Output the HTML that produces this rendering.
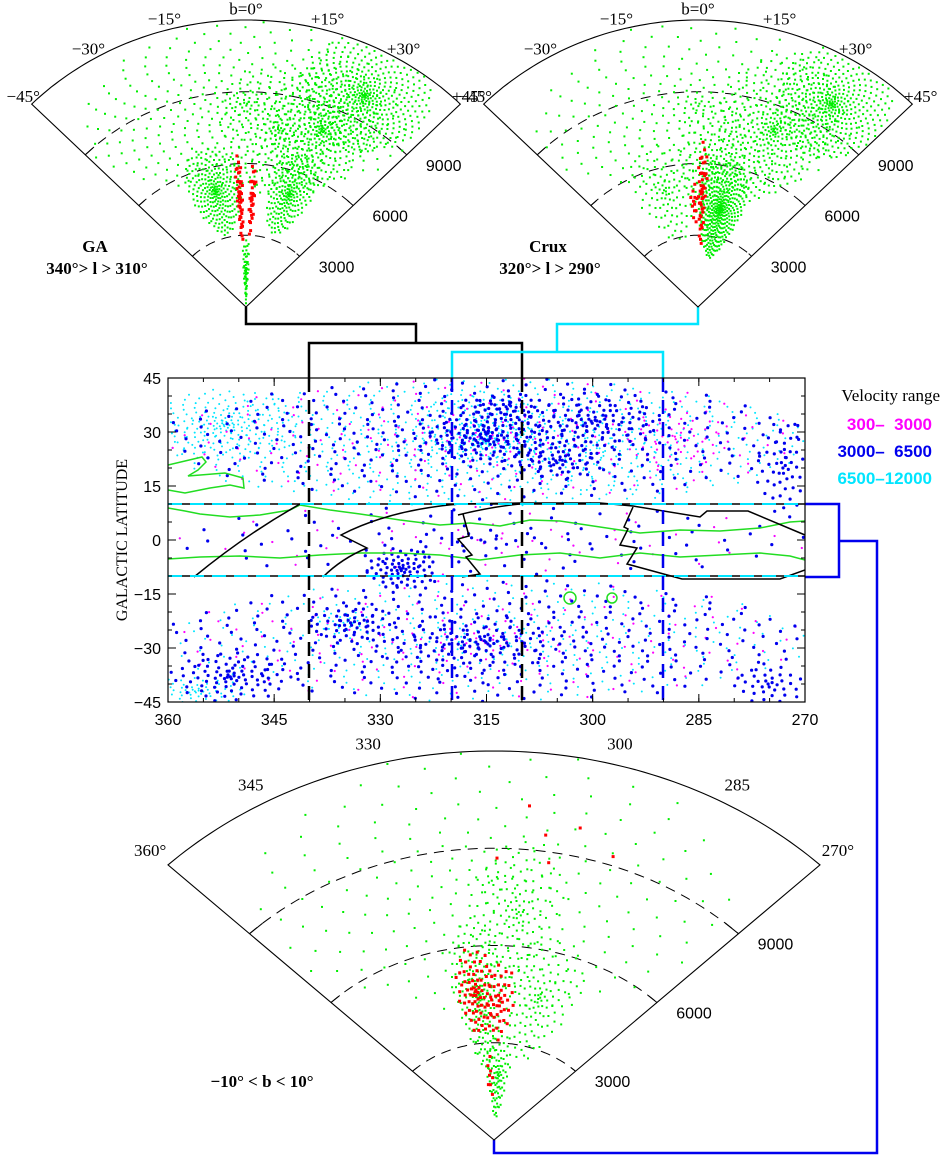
<!DOCTYPE html>
<html><head><meta charset="utf-8"><title>Zone of Avoidance redshift wedges</title>
<style>
html,body{margin:0;padding:0;background:#fff;}
svg{display:block;}
text{font-family:"Liberation Sans",sans-serif;}
.ser{font-family:"Liberation Serif",serif;}
.mono{font-family:"Liberation Mono",monospace;}
</style></head>
<body>
<svg id="fig" width="945" height="1156" viewBox="0 0 945 1156" xmlns="http://www.w3.org/2000/svg">
  <defs>
    <clipPath id="mapclip"><rect x="168" y="378" width="637" height="324"/></clipPath>
  </defs>
  <g id="connectors" fill="none">
    <polyline points="246,307 246,324 416,324 416,343" stroke="#000" stroke-width="2.5"/>
    <polyline points="309,378 309,343 522,343 522,378" stroke="#000" stroke-width="2.5"/>
    <polyline points="698,307 698,324 557,324 557,352" stroke="#00e5ff" stroke-width="2.5"/>
    <polyline points="452,378 452,352 663,352 663,378" stroke="#00e5ff" stroke-width="2.5"/>
    <polyline points="805,504 839,504 839,577 805,577" stroke="#0000ee" stroke-width="2.5"/>
    <polyline points="839,541 877,541 877,1153 494,1153 494,1140" stroke="#0000ee" stroke-width="2.5"/>
  </g>
  <g id="wedgeGA"></g>
  <g id="wedgeCrux"></g>
  <g id="wedgeZoA"></g>
  <g id="map">
    <g id="mapdots" clip-path="url(#mapclip)"></g>
    <g id="mapover" clip-path="url(#mapclip)" fill="none">
      <path d="M168,508 L185,511 L200,514 L230,517 L260,515 L290,510 L300,505 L330,510 L360,514 L400,520 L440,525 L470,523 L500,526 L530,520 L560,521 L600,527 L640,533 L680,530 L720,531 L760,528 L790,522 L805,521" stroke="#22dd22" stroke-width="1.5"/>
      <path d="M168,559 L200,557 L240,556 L280,558 L320,555 L360,553 L400,553 L440,555 L480,560 L520,555 L560,553 L600,558 L640,553 L680,557 L720,555 L760,553 L790,556 L805,560" stroke="#22dd22" stroke-width="1.5"/>
      <path d="M168,465 L185,461 L202,457 L206,462 L198,470 L188,476 L225,473 L243,478 L244,488 L230,485 L210,488 L185,493 L168,490" stroke="#22dd22" stroke-width="1.5"/>
      <circle cx="570" cy="598" r="6" stroke="#22dd22" stroke-width="1.5"/>
      <circle cx="612" cy="598" r="5" stroke="#22dd22" stroke-width="1.5"/>
      <path d="M194,577 Q245,535 300,504" stroke="#000" stroke-width="1.5"/>
      <path d="M323,577 C335,565 350,555 367,548 L341,535 C370,520 410,508 460,504 L520,503 L600,503 L633,506 L700,517 L707,511 L748,511 L805,535" stroke="#000" stroke-width="1.5"/>
      <path d="M458,515 Q490,507 520,504 M463,514 L469,536 L458,539 L472,555 L466,557 L480,574 L462,577" stroke="#000" stroke-width="1.5"/>
      <path d="M633,507 L624,527 L628,529 L620,545 L637,548 L627,564 L682,579 L780,579 L805,570" stroke="#000" stroke-width="1.5"/>
      <line x1="168" y1="504" x2="805" y2="504" stroke="#000" stroke-width="1.5"/>
      <line x1="168" y1="504" x2="805" y2="504" stroke="#00e5ff" stroke-width="2" stroke-dasharray="14,8"/>
      <line x1="168" y1="576" x2="805" y2="576" stroke="#000" stroke-width="1.5"/>
      <line x1="168" y1="576" x2="805" y2="576" stroke="#00e5ff" stroke-width="2" stroke-dasharray="14,8"/>
      <line x1="309" y1="378" x2="309" y2="702" stroke="#000" stroke-width="2.5" stroke-dasharray="14,8"/>
      <line x1="522" y1="378" x2="522" y2="702" stroke="#000" stroke-width="2.5" stroke-dasharray="14,8"/>
      <line x1="452" y1="378" x2="452" y2="702" stroke="#0000ee" stroke-width="2.5" stroke-dasharray="14,8"/>
      <line x1="663" y1="378" x2="663" y2="702" stroke="#0000ee" stroke-width="2.5" stroke-dasharray="14,8"/>
    </g>
    <rect x="168" y="378" width="637" height="324" fill="none" stroke="#000" stroke-width="1.2"/>
    <g id="mapaxes"></g>
    <text x="127" y="540" class="ser" font-size="16" text-anchor="middle" transform="rotate(-90 127 540)">GALACTIC LATITUDE</text>
  </g>
  <g>
    <text x="940" y="401" class="ser" font-size="17" text-anchor="end">Velocity range</text>
    <text x="932" y="430" font-size="17" font-weight="bold" fill="#ff00ff" text-anchor="end" xml:space="preserve">300–  3000</text>
    <text x="932" y="457" font-size="17" font-weight="bold" fill="#0000ee" text-anchor="end" xml:space="preserve">3000–  6500</text>
    <text x="932" y="484" font-size="17" font-weight="bold" fill="#00e5ff" text-anchor="end">6500–12000</text>
  </g>
  <text x="95" y="252" class="ser" font-size="17" font-weight="bold" text-anchor="middle">GA</text>
  <text x="97" y="274" class="ser" font-size="17" font-weight="bold" text-anchor="middle">340°&gt; l &gt; 310°</text>
  <text x="548" y="252" class="ser" font-size="17" font-weight="bold" text-anchor="middle">Crux</text>
  <text x="550" y="274" class="ser" font-size="17" font-weight="bold" text-anchor="middle">320°&gt; l &gt; 290°</text>
  <text x="262" y="1087" class="ser" font-size="17" font-weight="bold" text-anchor="middle">−10° &lt; b &lt; 10°</text>
</svg>
<script>
// ---- sky map clusters: galactic longitude / latitude centre, half-extent, count ----
const mapL  = [315,315,315,315,315,315,315,315,315, 315,316,305,327,334,335,351,356,275,352,273,312,300,288,318,300];
const mapB  = [ 27,-28, 28,-28, 28,-28,  0,  0,  0,  30, 32, 22, -8,-23,-23,-38,-42,-40, 32, 20, 37, 33, 28,-30, 25];
const mapSL = [ 46, 46, 46, 46, 46, 46, 46, 46, 46,   8,  9,  7,  5,  6,  4,  9,  7,  5, 11,  4,  5, 10,  8, 12, 14];
const mapSB = [ 18, 17, 17, 17, 17, 17, 10, 10, 10,   9, 10,  5,  6,  6,  3,  7,  4,  6, 10, 14,  4,  8,  8, 10, 13];
const mapN  = [800,350,420,420,220,180,110, 60, 60,  90,120, 50, 70, 45, 25, 80, 60, 35,180, 50, 30, 90, 45, 50, 70];
const mapSeries = [2,2,1,1,0,0,1,0,2, 1,2,1,1,1,2,1,2,1,2,1,1,1,0,1,2]; // 0 magenta, 1 blue, 2 cyan
// ---- GA wedge clusters: latitude (deg), velocity (km/s), half-extent, count, red flag ----
const gaB  = [ 28, 22,-14, 20, 10,  0, 0, -3,  3];
const gaV  = [10000,8000,5000,5000,7500,8500,1500,4600,4500];
const gaSB = [ 15, 15, 12, 10, 18, 44, 4, 1.5, 1.5];
const gaSV = [2400,2800,1900,1800,2800,3600,1400,1900,1600];
const gaN  = [450,300,250,200,200,400, 60, 45, 30];
const gaRed= [0,0,0,0,0,0,0,1,1];
// ---- Crux wedge clusters ----
const cxB  = [ 32, 22, 12,  5,  0,-15,  2, -2];
const cxV  = [10000,8000,4200,6000,8500,5000,4800,4300];
const cxSB = [ 13, 16, 12, 12, 44, 14,  2,  2];
const cxSV = [2400,3200,2100,2700,3600,2200,2300, 900];
const cxN  = [400,350,380,150,300,100, 45, 12];
const cxRed= [0,0,0,0,0,0,1,1];
// ---- ZoA wedge clusters: longitude (deg), velocity ----
const zaL  = [320,310,300,315,312,321,313,305,318];
const zaV  = [4500,7000,4500,8000,2000,4600,4300,9500,2000];
const zaSL = [  8,  9, 12, 44,  8,  6,  5, 12,  3];
const zaSV = [2400,2400,2000,4200,1400,1400,1300,1600, 700];
const zaN  = [200,120,120,250, 90, 70, 40,  6,  8];
const zaRed= [0,0,0,0,0,1,1,1,1];
const xTicks = [360,345,330,315,300,285,270];
const yTicks = [45,30,15,0,-15,-30,-45];
const velTicks = [3000,6000,9000];
const wedgeBLabels = [-45,-30,-15,0,15,30,45];
const zoaLLabels = [360,345,330,300,285,270];

const NS = 'http://www.w3.org/2000/svg';
function mk(tag, attrs, parent){ const e=document.createElementNS(NS,tag); for(const k in attrs) e.setAttribute(k,attrs[k]); parent.appendChild(e); return e; }
const xMap = l => 168 + (360 - l) * 637 / 90;
const yMap = b => 540 - b * 3.6;
function sunflower(n, i){ const r=Math.pow((i+0.5)/n,0.75), t=i*2.399963; return [r*Math.cos(t), r*Math.sin(t)]; }

const mapColors = ['#ff00ff','#0000ee','#00e5ff'];
const mapSizes = [1.1,1.6,1.0];
const mapDots = document.getElementById('mapdots');
for (const s of [2,0,1]) {
  for (let c=0;c<mapL.length;c++){
    if (mapSeries[c]!==s) continue;
    for (let i=0;i<mapN[c];i++){
      const [u,v]=sunflower(mapN[c],i);
      const l=mapL[c]+u*mapSL[c], b=mapB[c]+v*mapSB[c];
      const d=mk('circle',{cx:xMap(l).toFixed(1),cy:yMap(b).toFixed(1),r:mapSizes[s],fill:mapColors[s]},mapDots);
      
      
    }
  }
}
const ax=document.getElementById('mapaxes');
for (const t of xTicks){
  mk('line',{x1:xMap(t),y1:702,x2:xMap(t),y2:694,stroke:'#000'},ax);
  mk('line',{x1:xMap(t),y1:378,x2:xMap(t),y2:386,stroke:'#000'},ax);
  const tx=mk('text',{x:xMap(t),y:725,'font-size':16,'text-anchor':'middle'},ax); tx.textContent=t;
  
  
}
for (let t=270;t<=360;t+=5){ mk('line',{x1:xMap(t),y1:702,x2:xMap(t),y2:698,stroke:'#000'},ax); mk('line',{x1:xMap(t),y1:378,x2:xMap(t),y2:382,stroke:'#000'},ax); }
for (const t of yTicks){
  mk('line',{x1:168,y1:yMap(t),x2:176,y2:yMap(t),stroke:'#000'},ax);
  mk('line',{x1:805,y1:yMap(t),x2:797,y2:yMap(t),stroke:'#000'},ax);
  const tx=mk('text',{x:161,y:yMap(t)+6,'font-size':16,'text-anchor':'end'},ax); tx.textContent=(t<0?'−':'')+Math.abs(t);
  
  
}
for (let t=-45;t<=45;t+=5){ mk('line',{x1:168,y1:yMap(t),x2:172,y2:yMap(t),stroke:'#000'},ax); mk('line',{x1:805,y1:yMap(t),x2:801,y2:yMap(t),stroke:'#000'},ax); }

function wedge(g, cx, cy, rx, ry, angs, vels, sas, svs, ns, reds, angOf, labels, labelText, lf){
  const P=(a,v)=>{ const r=v/12000, rad=a*Math.PI/180; return [cx+rx*r*Math.sin(rad), cy-ry*r*Math.cos(rad)]; };
  let d='M'+cx+','+cy;
  for(let a=-45;a<=45;a+=1){ const p=P(a,12000); d+=' L'+p[0].toFixed(1)+','+p[1].toFixed(1); }
  d+=' Z';
  const fr=mk('path',{d:d,fill:'none',stroke:'#000','stroke-width':1.1},g);
  
  
  for (const v of velTicks){
    let dd='';
    for(let a=-45;a<=45;a+=1){ const p=P(a,v); dd+=(a===-45?'M':' L')+p[0].toFixed(1)+','+p[1].toFixed(1); }
    const arc=mk('path',{d:dd,fill:'none',stroke:'#000','stroke-width':1,'stroke-dasharray':'10,7'},g);
    
    
    for (const a of [-45,45]){ const p=P(a,v), q=P(a+(a<0?3:-3),v); mk('line',{x1:p[0],y1:p[1],x2:q[0],y2:q[1],stroke:'#000'},g); }
    const p=P(45,v);
    const tx=mk('text',{x:p[0]+37,y:p[1]+16,'font-size':16,'text-anchor':'middle'},g); tx.textContent=v;
    
    
  }
  for (const red of [0,1]){
    for(let c=0;c<angs.length;c++){
      if (reds[c]!==red) continue;
      for(let i=0;i<ns[c];i++){
        const [u,w]=sunflower(ns[c],i);
        const a=angOf(angs[c]+u*sas[c]), v=vels[c]+w*svs[c];
        if (a<-44.5||a>44.5||v<80||v>11950) continue;
        const p=P(a,v);
        const dot=mk('rect',{x:(p[0]-(red?1.5:1)).toFixed(1),y:(p[1]-(red?1.5:1)).toFixed(1),width:red?3:2,height:red?3:2,fill:red?'#ff0000':'#00ee00'},g);
        
        
      }
    }
  }
  for (const L of labels){
    const a=angOf(L), p=P(a,12000*lf);
    const tx=mk('text',{x:p[0].toFixed(1),y:(p[1]+6).toFixed(1),'font-size':17,'text-anchor':'middle',class:'ser'},g); tx.textContent=labelText(L);
    
    
  }
}
const bText = b => b===0 ? 'b=0°' : (b<0?'−':'+')+Math.abs(b)+'°';
wedge(document.getElementById('wedgeGA'),246,307,303,287,gaB,gaV,gaSB,gaSV,gaN,gaRed,b=>b,wedgeBLabels,bText,1.04);
wedge(document.getElementById('wedgeCrux'),698,307,303,287,cxB,cxV,cxSB,cxSV,cxN,cxRed,b=>b,wedgeBLabels,bText,1.04);
wedge(document.getElementById('wedgeZoA'),494,1140,461,389,zaL,zaV,zaSL,zaSV,zaN,zaRed,l=>315-l,zoaLLabels,l=>(l===360||l===270)?l+'°':''+l,1.055);
</script>
</body></html>
